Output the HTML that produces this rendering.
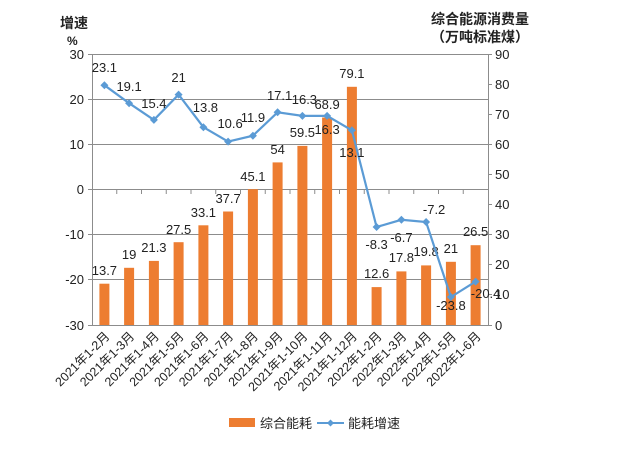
<!DOCTYPE html>
<html><head><meta charset="utf-8"><style>
body{margin:0;background:#fff;width:630px;height:446px;overflow:hidden}
text{font-family:"Liberation Sans","Noto Sans CJK SC",sans-serif;fill:#222}
</style></head><body>
<svg width="630" height="446" viewBox="0 0 630 446">
<g stroke="#8c8c8c" stroke-width="1">
<line x1="92" y1="54.5" x2="488" y2="54.5"/>
<line x1="92" y1="99.5" x2="488" y2="99.5"/>
<line x1="92" y1="144.5" x2="488" y2="144.5"/>
<line x1="92" y1="189.5" x2="488" y2="189.5"/>
<line x1="92" y1="234.5" x2="488" y2="234.5"/>
<line x1="92" y1="279.5" x2="488" y2="279.5"/>
<line x1="92" y1="325.5" x2="488" y2="325.5"/>
<line x1="92.5" y1="54" x2="92.5" y2="325"/>
<line x1="488.5" y1="54" x2="488.5" y2="325"/>
<line x1="88" y1="54.5" x2="92" y2="54.5"/><line x1="88" y1="99.5" x2="92" y2="99.5"/><line x1="88" y1="144.5" x2="92" y2="144.5"/><line x1="88" y1="189.5" x2="92" y2="189.5"/><line x1="88" y1="234.5" x2="92" y2="234.5"/><line x1="88" y1="279.5" x2="92" y2="279.5"/><line x1="88" y1="325.5" x2="92" y2="325.5"/>
<line x1="488" y1="54.5" x2="492" y2="54.5"/><line x1="488" y1="84.5" x2="492" y2="84.5"/><line x1="488" y1="114.5" x2="492" y2="114.5"/><line x1="488" y1="144.5" x2="492" y2="144.5"/><line x1="488" y1="174.5" x2="492" y2="174.5"/><line x1="488" y1="204.5" x2="492" y2="204.5"/><line x1="488" y1="234.5" x2="492" y2="234.5"/><line x1="488" y1="264.5" x2="492" y2="264.5"/><line x1="488" y1="294.5" x2="492" y2="294.5"/><line x1="488" y1="325.5" x2="492" y2="325.5"/>
<line x1="116.75" y1="189.5" x2="116.75" y2="194"/><line x1="141.5" y1="189.5" x2="141.5" y2="194"/><line x1="166.25" y1="189.5" x2="166.25" y2="194"/><line x1="191" y1="189.5" x2="191" y2="194"/><line x1="215.75" y1="189.5" x2="215.75" y2="194"/><line x1="240.5" y1="189.5" x2="240.5" y2="194"/><line x1="265.25" y1="189.5" x2="265.25" y2="194"/><line x1="290" y1="189.5" x2="290" y2="194"/><line x1="314.75" y1="189.5" x2="314.75" y2="194"/><line x1="339.5" y1="189.5" x2="339.5" y2="194"/><line x1="364.25" y1="189.5" x2="364.25" y2="194"/><line x1="389" y1="189.5" x2="389" y2="194"/><line x1="413.75" y1="189.5" x2="413.75" y2="194"/><line x1="438.5" y1="189.5" x2="438.5" y2="194"/><line x1="463.25" y1="189.5" x2="463.25" y2="194"/>
</g>
<g font-size="13" text-anchor="end">
<text x="84" y="59">30</text><text x="84" y="104">20</text><text x="84" y="149">10</text><text x="84" y="194">0</text><text x="84" y="239">-10</text><text x="84" y="284">-20</text><text x="84" y="330">-30</text>
</g>
<g font-size="13">
<text x="495" y="59">90</text><text x="495" y="89">80</text><text x="495" y="119">70</text><text x="495" y="149">60</text><text x="495" y="179">50</text><text x="495" y="209">40</text><text x="495" y="239">30</text><text x="495" y="269">20</text><text x="495" y="299">10</text><text x="495" y="330">0</text>
</g>
<text x="60" y="28" font-size="14" font-weight="bold">增速</text>
<text x="67" y="45" font-size="12" font-weight="bold">%</text>
<text x="480" y="24" font-size="14" font-weight="bold" text-anchor="middle">综合能源消费量</text>
<text x="480" y="42" font-size="14" font-weight="bold" text-anchor="middle">（万吨标准煤）</text>
<g fill="#ed7d31">
<rect x="99.4" y="283.7" width="10" height="41.3"/>
<rect x="124.1" y="267.8" width="10" height="57.2"/>
<rect x="148.9" y="260.9" width="10" height="64.1"/>
<rect x="173.6" y="242.2" width="10" height="82.8"/>
<rect x="198.4" y="225.3" width="10" height="99.7"/>
<rect x="223.1" y="211.5" width="10" height="113.5"/>
<rect x="247.9" y="189.2" width="10" height="135.8"/>
<rect x="272.6" y="162.4" width="10" height="162.6"/>
<rect x="297.4" y="145.9" width="10" height="179.1"/>
<rect x="322.1" y="117.5" width="10" height="207.5"/>
<rect x="346.9" y="86.8" width="10" height="238.2"/>
<rect x="371.6" y="287.1" width="10" height="37.9"/>
<rect x="396.4" y="271.4" width="10" height="53.6"/>
<rect x="421.1" y="265.4" width="10" height="59.6"/>
<rect x="445.9" y="261.8" width="10" height="63.2"/>
<rect x="470.6" y="245.2" width="10" height="79.8"/>
</g>
<g font-size="13" text-anchor="middle">
<text x="104.4" y="275">13.7</text>
<text x="129.1" y="259">19</text>
<text x="153.9" y="252">21.3</text>
<text x="178.6" y="234">27.5</text>
<text x="203.4" y="217">33.1</text>
<text x="228.1" y="203">37.7</text>
<text x="252.9" y="181">45.1</text>
<text x="277.6" y="154">54</text>
<text x="302.4" y="137">59.5</text>
<text x="327.1" y="109">68.9</text>
<text x="351.9" y="78">79.1</text>
<text x="376.6" y="278">12.6</text>
<text x="401.4" y="262">17.8</text>
<text x="426.1" y="256">19.8</text>
<text x="450.9" y="253">21</text>
<text x="475.6" y="236">26.5</text>
</g>
<polyline fill="none" stroke="#5b9bd5" stroke-width="2.2" points="104.4,85.2 129.1,103.2 153.9,119.9 178.6,94.6 203.4,127.2 228.1,141.6 252.9,135.7 277.6,112.3 302.4,115.9 327.1,115.9 351.9,130.3 376.6,227 401.4,219.8 426.1,222 450.9,297 475.6,281.6"/>
<g fill="#5b9bd5">
<path d="M104.4 81.2l4 4-4 4-4-4z"/><path d="M129.1 99.2l4 4-4 4-4-4z"/><path d="M153.9 115.9l4 4-4 4-4-4z"/><path d="M178.6 90.6l4 4-4 4-4-4z"/><path d="M203.4 123.2l4 4-4 4-4-4z"/><path d="M228.1 137.6l4 4-4 4-4-4z"/><path d="M252.9 131.7l4 4-4 4-4-4z"/><path d="M277.6 108.3l4 4-4 4-4-4z"/><path d="M302.4 111.9l4 4-4 4-4-4z"/><path d="M327.1 111.9l4 4-4 4-4-4z"/><path d="M351.9 126.3l4 4-4 4-4-4z"/><path d="M376.6 223l4 4-4 4-4-4z"/><path d="M401.4 215.8l4 4-4 4-4-4z"/><path d="M426.1 218l4 4-4 4-4-4z"/><path d="M450.9 293l4 4-4 4-4-4z"/><path d="M475.6 277.6l4 4-4 4-4-4z"/>
</g>
<g font-size="13" text-anchor="middle">
<text x="104.4" y="72">23.1</text>
<text x="129.1" y="91">19.1</text>
<text x="153.9" y="108">15.4</text>
<text x="178.6" y="82">21</text>
<text x="205.4" y="112">13.8</text>
<text x="230.1" y="128">10.6</text>
<text x="252.9" y="122">11.9</text>
<text x="279.6" y="100">17.1</text>
<text x="304.4" y="104">16.3</text>
<text x="327.1" y="134">16.3</text>
<text x="351.9" y="157">13.1</text>
<text x="376.6" y="249">-8.3</text>
<text x="401.4" y="242">-6.7</text>
<text x="434.1" y="214">-7.2</text>
<text x="450.9" y="310">-23.8</text>
<text x="485.6" y="298">-20.4</text>
</g>
<g font-size="12.5" text-anchor="end">
<text x="110.4" y="337" transform="rotate(-45 110.4 337)">2021年1-2月</text>
<text x="135.1" y="337" transform="rotate(-45 135.1 337)">2021年1-3月</text>
<text x="159.9" y="337" transform="rotate(-45 159.9 337)">2021年1-4月</text>
<text x="184.6" y="337" transform="rotate(-45 184.6 337)">2021年1-5月</text>
<text x="209.4" y="337" transform="rotate(-45 209.4 337)">2021年1-6月</text>
<text x="234.1" y="337" transform="rotate(-45 234.1 337)">2021年1-7月</text>
<text x="258.9" y="337" transform="rotate(-45 258.9 337)">2021年1-8月</text>
<text x="283.6" y="337" transform="rotate(-45 283.6 337)">2021年1-9月</text>
<text x="308.4" y="337" transform="rotate(-45 308.4 337)">2021年1-10月</text>
<text x="333.1" y="337" transform="rotate(-45 333.1 337)">2021年1-11月</text>
<text x="357.9" y="337" transform="rotate(-45 357.9 337)">2021年1-12月</text>
<text x="382.6" y="337" transform="rotate(-45 382.6 337)">2022年1-2月</text>
<text x="407.4" y="337" transform="rotate(-45 407.4 337)">2022年1-3月</text>
<text x="432.1" y="337" transform="rotate(-45 432.1 337)">2022年1-4月</text>
<text x="456.9" y="337" transform="rotate(-45 456.9 337)">2022年1-5月</text>
<text x="481.6" y="337" transform="rotate(-45 481.6 337)">2022年1-6月</text>
</g>
<rect x="229" y="418" width="26" height="9" fill="#ed7d31"/>
<text x="260" y="428" font-size="13">综合能耗</text>
<line x1="317" y1="423" x2="344" y2="423" stroke="#5b9bd5" stroke-width="2"/>
<path d="M330.5 419.5 L334 423 L330.5 426.5 L327 423Z" fill="#5b9bd5"/>
<text x="348" y="428" font-size="13">能耗增速</text>
</svg>
</body></html>
